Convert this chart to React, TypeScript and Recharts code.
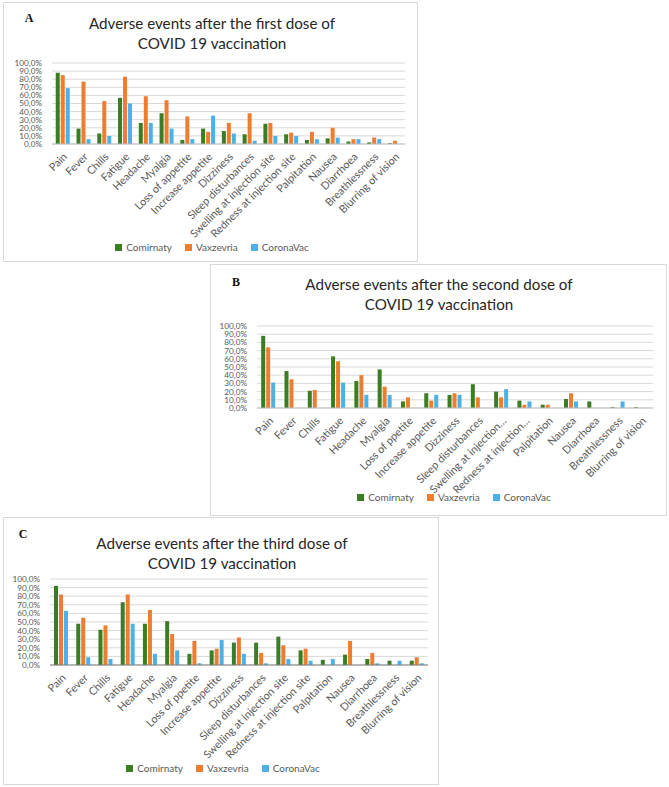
import React from "react";
import { BarChart, Bar, XAxis, YAxis, CartesianGrid, Legend } from "recharts";

const categoriesA = [
  "Pain", "Fever", "Chills", "Fatigue", "Headache", "Myalgia", "Loss of appetite",
  "Increase appetite", "Dizziness", "Sleep disturbances", "Swelling at injection site",
  "Redness at injection site", "Palpitation", "Nausea", "Diarrhoea", "Breathlessness",
  "Blurring of vision",
];
const comirnatyA = [88, 19, 13, 57, 26, 38, 5, 19, 16, 12, 25, 12, 5, 7, 3, 2, 1];
const vaxzevriaA = [85, 77, 53, 83, 59, 54, 34, 15, 26, 38, 26, 14, 15, 20, 6, 8, 4];
const coronaVacA = [69, 6, 10, 50, 26, 19, 6, 35, 13, 4, 10, 10, 6, 8, 6, 6, 0];

const categoriesB = [
  "Pain", "Fever", "Chills", "Fatigue", "Headache", "Myalgia", "Loss of ppetite",
  "Increase appetite", "Dizziness", "Sleep disturbances", "Swelling at injection…",
  "Redness at injection…", "Palpitation", "Nausea", "Diarrhoea", "Breathlessness",
  "Blurring of vision",
];
const comirnatyB = [88, 45, 21, 63, 33, 47, 8, 18, 16, 29, 20, 9, 4, 11, 8, 1, 1];
const vaxzevriaB = [74, 35, 22, 57, 40, 26, 13, 9, 18, 13, 13, 4, 4, 18, 0, 0, 0];
const coronaVacB = [31, 0, 0, 31, 16, 16, 0, 16, 16, 0, 23, 8, 0, 8, 0, 8, 0];

const categoriesC = [
  "Pain", "Fever", "Chills", "Fatigue", "Headache", "Myalgia", "Loss of ppetite",
  "Increase appetite", "Dizziness", "Sleep disturbances", "Swelling at injection site",
  "Redness at injection site", "Palpitation", "Nausea", "Diarrhoea", "Breathlessness",
  "Blurring of vision",
];
const comirnatyC = [92, 48, 41, 73, 48, 51, 13, 17, 26, 26, 33, 17, 6, 12, 7, 5, 5];
const vaxzevriaC = [82, 55, 46, 82, 64, 36, 28, 19, 32, 14, 23, 19, 0, 28, 14, 0, 9];
const coronaVacC = [63, 9, 7, 48, 13, 17, 2, 29, 13, 2, 7, 5, 7, 0, 2, 5, 2];

const seriesNames = ["Comirnaty", "Vaxzevria", "CoronaVac"];
const yTicks = [0, 10, 20, 30, 40, 50, 60, 70, 80, 90, 100];

const GREEN = "#3b7d23";
const ORANGE = "#ed7d31";
const BLUE = "#4cb1e6";
const TEXT = "#595959";
const FONT = "Lato, 'Open Sans', sans-serif";

function buildRows(cats: string[], c: number[], v: number[], cv: number[]) {
  return cats.map((name, i) => ({
    name,
    Comirnaty: c[i],
    Vaxzevria: v[i],
    CoronaVac: cv[i],
  }));
}

const fmtPct = (v: number) => v.toFixed(1).replace(".", ",") + "%";

// excel-like legend: small squares, grey text, tight spacing
function LegendRow(props: any) {
  const items = [...(props.payload || [])].sort(
    (a: any, b: any) => seriesNames.indexOf(a.value) - seriesNames.indexOf(b.value)
  );
  return (
    <div style={{ display: "flex", justifyContent: "center", gap: 13, lineHeight: "16px" }}>
      {items.map((it: any) => (
        <span key={it.value} style={{ display: "flex", alignItems: "center", color: TEXT }}>
          <span style={{ width: 7, height: 7, background: it.color, marginRight: 4, display: "inline-block" }} />
          {it.value}
        </span>
      ))}
    </div>
  );
}

interface PanelProps {
  letter: string;
  title: [string, string];
  rows: ReturnType<typeof buildRows>;
  box: { x: number; y: number; w: number; h: number };
  titleX: number;
  titleY: number;
  letterPos: [number, number];
  plot: { top: number; bottom: number; left: number; right: number };
  legendX: number;
  legendY: number;
  axisColor: string;
}

function Panel({ letter, title, rows, box, titleX, titleY, letterPos, plot, legendX, legendY, axisColor }: PanelProps) {
  const legendH = 16;
  const legendW = 300;
  const marginBottom = box.y + box.h - (legendY + legendH / 2);
  const xAxisHeight = legendY - legendH / 2 - plot.bottom;
  return (
    <div
      style={{
        position: "absolute",
        left: box.x,
        top: box.y,
        width: box.w,
        height: box.h,
        border: "1px solid #d9d9d9",
        boxSizing: "border-box",
        background: "#fff",
      }}
    >
      <div
        style={{
          position: "absolute",
          left: letterPos[0] - box.x - 10,
          top: letterPos[1] - box.y - 8,
          width: 20,
          lineHeight: "16px",
          textAlign: "center",
          fontFamily: "'Liberation Serif', serif",
          fontWeight: "bold",
          fontSize: 12,
          color: "#111",
        }}
      >
        {letter}
      </div>
      <div
        style={{
          position: "absolute",
          left: titleX - box.x - 200,
          top: titleY - box.y - 10,
          width: 400,
          textAlign: "center",
          fontFamily: FONT,
          fontSize: 15.2,
          lineHeight: "20px",
          color: "#262626",
        }}
      >
        {title[0]}
        <br />
        {title[1]}
      </div>
      <div style={{ position: "absolute", left: -1, top: -1 }}>
        <BarChart
          width={box.w}
          height={box.h}
          data={rows}
          margin={{ top: plot.top - box.y, right: box.x + box.w - plot.right, left: 0, bottom: marginBottom }}
          barCategoryGap="18%"
          barGap={1}
        >
          <CartesianGrid vertical={false} stroke="#d9d9d9" />
          <XAxis
            dataKey="name"
            interval={0}
            angle={-45}
            textAnchor="end"
            tickLine={false}
            height={xAxisHeight}
            stroke={axisColor}
            tick={{ fontSize: 10.8, fill: TEXT, fontFamily: FONT }}
          />
          <YAxis
            width={plot.left - box.x}
            domain={[0, 100]}
            ticks={yTicks}
            interval={0}
            tickFormatter={fmtPct}
            axisLine={false}
            tickLine={false}
            tickMargin={4}
            tick={{ fontSize: 8.2, fill: TEXT, fontFamily: FONT }}
          />
          <Legend
            verticalAlign="bottom"
            content={LegendRow}
            wrapperStyle={{
              fontSize: 10,
              fontFamily: FONT,
              height: legendH,
              width: legendW,
              left: legendX - box.x - legendW / 2,
            }}
          />
          <Bar dataKey="Comirnaty" fill={GREEN} isAnimationActive={false} />
          <Bar dataKey="Vaxzevria" fill={ORANGE} isAnimationActive={false} />
          <Bar dataKey="CoronaVac" fill={BLUE} isAnimationActive={false} />
        </BarChart>
      </div>
    </div>
  );
}

export default function App() {
  return (
    <div style={{ position: "absolute", left: 0, top: 0, width: 669, height: 787, background: "#fff" }}>
      <Panel
        letter="A"
        title={["Adverse events after the first dose of", "COVID 19 vaccination"]}
        rows={buildRows(categoriesA, comirnatyA, vaxzevriaA, coronaVacA)}
        box={{ x: 3, y: 2, w: 415, h: 260 }}
        titleX={211}
        titleY={22}
        letterPos={[28, 17]}
        plot={{ top: 63, bottom: 144, left: 52, right: 405 }}
        legendX={212}
        legendY={247}
        axisColor="#bfbfbf"
      />
      <Panel
        letter="B"
        title={["Adverse events after the second dose of", "COVID 19 vaccination"]}
        rows={buildRows(categoriesB, comirnatyB, vaxzevriaB, coronaVacB)}
        box={{ x: 210, y: 264, w: 457, h: 252 }}
        titleX={438}
        titleY={283}
        letterPos={[235, 281]}
        plot={{ top: 326, bottom: 408, left: 257, right: 653 }}
        legendX={454}
        legendY={497}
        axisColor="#bfbfbf"
      />
      <Panel
        letter="C"
        title={["Adverse events after the third dose of", "COVID 19 vaccination"]}
        rows={buildRows(categoriesC, comirnatyC, vaxzevriaC, coronaVacC)}
        box={{ x: 3, y: 517, w: 436, h: 268 }}
        titleX={221}
        titleY={542}
        letterPos={[22, 533]}
        plot={{ top: 579, bottom: 665, left: 50, right: 428 }}
        legendX={223}
        legendY={768}
        axisColor="#7f7f7f"
      />
    </div>
  );
}
